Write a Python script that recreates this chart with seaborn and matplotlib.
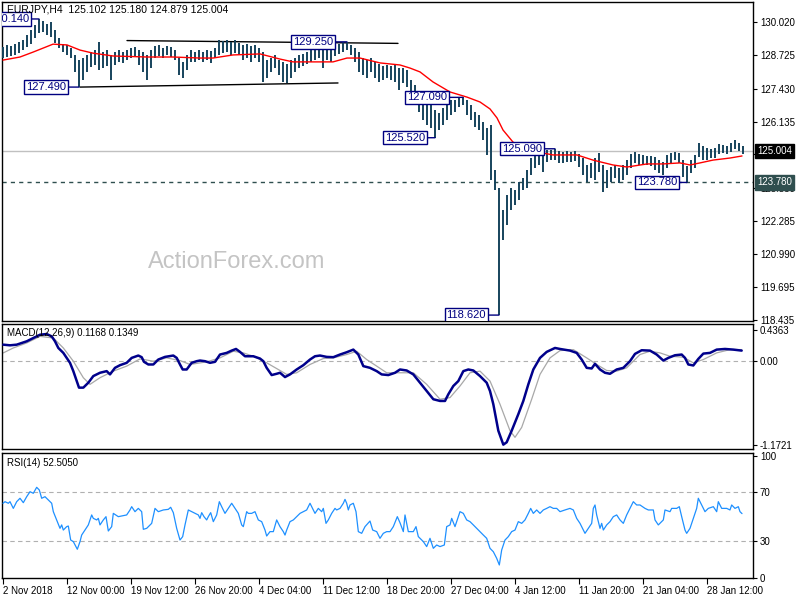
import matplotlib
matplotlib.use("Agg")
import matplotlib.pyplot as plt
import seaborn as sns

sns.set_theme(style="white")
plt.rcParams['font.family'] = ['Liberation Sans', 'DejaVu Sans']

# ---------------- data ----------------
highs = [129.05, 129.13, 129.09, 129.16, 129.24, 129.32, 129.51, 129.71, 129.90, 130.14,
         130.06, 129.94, 130.02, 129.71, 129.40, 129.16, 129.13, 129.01, 128.74, 128.54,
         128.62, 128.74, 128.85, 128.93, 129.24, 128.85, 128.93, 128.74, 128.85, 128.93,
         128.85, 128.93, 129.01, 129.05, 128.93, 128.85, 128.74, 128.93, 129.09, 129.13,
         129.01, 129.09, 129.05, 128.93, 128.62, 128.46, 128.74, 128.93, 128.85, 128.93,
         128.85, 128.93, 128.89, 129.01, 129.32, 129.28, 129.32, 129.24, 129.32, 129.20,
         129.13, 129.16, 129.09, 129.13, 129.01, 128.85, 128.54, 128.62, 128.74, 128.54,
         128.46, 128.39, 128.54, 128.62, 128.74, 128.78, 128.85, 128.93, 129.01, 129.05,
         128.93, 129.09, 129.01, 129.13, 129.16, 129.24, 129.25, 129.13, 129.01, 128.85,
         128.62, 128.54, 128.62, 128.46, 128.39, 128.31, 128.35, 128.31, 128.39, 128.23,
         128.23, 128.15, 127.77, 127.57, 127.18, 126.99, 126.79, 126.87, 126.60, 126.48,
         126.68, 126.83, 126.99, 126.99, 127.06, 127.09, 126.99, 126.79, 126.52, 126.40,
         126.13, 125.90, 126.02, 124.27, 123.57, 122.71, 123.29, 123.57, 123.49, 123.80,
         123.95, 124.27, 124.73, 124.97, 125.04, 124.85, 125.04, 125.04, 125.09, 125.00,
         124.97, 125.00, 124.97, 125.00, 124.89, 124.73, 124.46, 124.54, 124.73, 124.93,
         124.46, 124.27, 124.38, 124.46, 124.34, 124.46, 124.65, 124.89, 124.97, 124.89,
         124.85, 124.81, 124.81, 124.77, 124.65, 124.58, 124.85, 124.93, 124.97, 124.93,
         124.65, 124.42, 124.65, 124.85, 125.32, 125.20, 125.12, 125.08, 125.12, 125.28,
         125.24, 125.20, 125.32, 125.43, 125.32, 125.18]
lows = [128.62, 128.66, 128.70, 128.74, 128.81, 128.93, 129.05, 129.16, 129.40, 129.59,
        129.63, 129.51, 129.44, 129.20, 129.01, 128.85, 128.74, 128.62, 128.08, 127.49,
        127.77, 128.08, 128.27, 128.35, 128.15, 128.23, 128.31, 127.77, 128.35, 128.46,
        128.43, 128.54, 128.62, 128.66, 128.35, 128.08, 127.77, 128.23, 128.62, 128.70,
        128.62, 128.74, 128.66, 128.54, 127.96, 127.84, 128.15, 128.46, 128.46, 128.54,
        128.46, 128.54, 128.43, 128.62, 128.74, 128.81, 128.85, 128.74, 128.81, 128.74,
        128.54, 128.62, 128.46, 128.62, 128.46, 127.69, 127.84, 128.08, 128.23, 127.96,
        127.69, 127.65, 127.84, 128.08, 128.23, 128.31, 128.39, 128.46, 128.54, 128.62,
        128.23, 128.54, 128.46, 128.70, 128.78, 128.85, 128.93, 128.74, 128.46, 128.08,
        127.96, 127.84, 128.08, 127.84, 127.69, 127.77, 127.84, 127.77, 127.69, 127.38,
        127.65, 127.49, 127.10, 126.79, 126.52, 126.21, 126.02, 125.90, 125.52, 125.82,
        126.02, 126.21, 126.40, 126.52, 126.72, 126.79, 126.40, 126.21, 125.94, 125.82,
        125.43, 124.85, 123.88, 123.49, 118.62, 121.54, 122.13, 122.71, 122.90, 123.10,
        123.49, 123.57, 124.07, 124.34, 124.46, 124.19, 124.58, 124.65, 124.65, 124.54,
        124.54, 124.58, 124.58, 124.62, 124.38, 124.07, 123.80, 123.95, 123.88, 124.19,
        123.41, 123.57, 123.80, 123.95, 123.76, 123.88, 124.07, 124.34, 124.54, 124.46,
        124.50, 124.46, 124.42, 124.27, 124.15, 124.07, 124.34, 124.54, 124.65, 124.54,
        123.99, 123.78, 124.15, 124.34, 124.77, 124.65, 124.65, 124.73, 124.73, 124.89,
        124.93, 124.89, 124.97, 125.08, 125.00, 124.879]
bar_index = list(range(len(highs)))

ma_x = [0, 4.25, 7.5, 12.5, 16, 19.25, 22.5, 27.5, 36, 42.5, 49.25, 52.5, 57.5, 64.25,
        69.25, 72.5, 79.25, 82.5, 86, 89.25, 94.25, 99.25, 101.75, 104.25, 107.5, 111.75,
        116, 119.25, 121.75, 123.5, 125, 127.5, 130, 133.5, 137.5, 143.5, 147.5, 152.5,
        156, 161, 165, 169.25, 171.75, 174.25, 177.5, 181.75, 184.75]
ma_val = [128.54, 128.66, 128.85, 129.16, 129.13, 128.93, 128.81, 128.70, 128.66, 128.66,
          128.62, 128.62, 128.74, 128.78, 128.58, 128.47, 128.47, 128.47, 128.62, 128.62,
          128.43, 128.35, 128.23, 128.08, 127.69, 127.30, 127.10, 126.91, 126.64, 126.29,
          125.82, 125.35, 125.12, 124.97, 124.85, 124.85, 124.65, 124.46, 124.38, 124.50,
          124.50, 124.54, 124.46, 124.54, 124.65, 124.73, 124.81]

macd_x = [0.08, 1.75, 3.42, 5.92, 7.58, 9.25, 10.92, 12.17, 13.0, 13.83, 15.08, 15.92,
          16.75, 17.58, 18.42, 19.0, 20.08, 21.33, 22.58, 24.25, 25.92, 26.75, 28.0, 29.25,
          30.92, 32.17, 33.83, 34.67, 35.25, 36.33, 37.58, 38.83, 40.5, 42.58, 43.42, 44.25,
          44.92, 45.92, 47.17, 48.42, 49.25, 50.5, 51.75, 53.0, 54.25, 55.92, 57.17, 58.25,
          59.25, 60.5, 62.58, 64.25, 65.08, 65.92, 67.17, 68.42, 69.25, 70.5, 71.75, 73.42,
          75.08, 76.75, 78.0, 79.25, 80.92, 82.58, 84.25, 85.92, 87.58, 88.83, 90.08, 91.75,
          93.42, 94.67, 96.33, 98.0, 99.25, 100.92, 102.58, 104.25, 105.92, 107.58, 109.25,
          110.5, 111.33, 112.58, 113.83, 115.08, 116.33, 117.58, 119.25, 120.92, 121.75,
          122.58, 123.83, 125.08, 125.92, 127.17, 128.83, 130.08, 131.33, 132.58, 134.25,
          135.92, 138.0, 139.25, 141.75, 143.42, 144.67, 145.92, 147.17, 148.0, 149.25,
          150.5, 151.75, 153.42, 155.08, 156.75, 158.0, 159.67, 161.75, 163.42, 165.08,
          166.33, 168.0, 169.67, 170.5, 171.33, 172.58, 173.83, 175.08, 176.75, 178.42,
          180.5, 182.58, 184.67]
macd_val = [0.231, 0.222, 0.231, 0.278, 0.324, 0.370, 0.380, 0.347, 0.278, 0.185, 0.116,
            0.046, -0.023, -0.139, -0.278, -0.370, -0.370, -0.301, -0.208, -0.162, -0.139,
            -0.185, -0.093, -0.056, -0.023, 0.046, 0.079, 0.056, -0.009, -0.046, -0.046,
            0.023, 0.060, 0.079, 0.046, -0.046, -0.116, -0.116, -0.023, 0.000, 0.009, 0.000,
            -0.023, -0.009, 0.093, 0.116, 0.148, 0.171, 0.130, 0.069, 0.069, 0.037, 0.000,
            -0.093, -0.194, -0.176, -0.162, -0.222, -0.185, -0.116, -0.056, 0.023, 0.069,
            0.079, 0.060, 0.056, 0.093, 0.125, 0.162, 0.093, -0.069, -0.093, -0.139, -0.185,
            -0.194, -0.162, -0.116, -0.130, -0.185, -0.301, -0.417, -0.532, -0.556, -0.556,
            -0.463, -0.347, -0.278, -0.139, -0.116, -0.130, -0.208, -0.301, -0.417, -0.602,
            -0.972, -1.167, -1.134, -0.972, -0.741, -0.556, -0.324, -0.116, 0.046, 0.130,
            0.185, 0.171, 0.148, 0.116, 0.023, -0.093, -0.102, -0.037, -0.116, -0.162,
            -0.176, -0.116, -0.093, 0.000, 0.102, 0.153, 0.148, 0.093, 0.009, 0.046, 0.083,
            0.093, 0.046, -0.046, -0.060, 0.032, 0.106, 0.116, 0.162, 0.171, 0.162, 0.148]

signal_x = [0.08, 2.58, 5.92, 9.25, 12.58, 15.08, 17.58, 20.08, 21.75, 24.25, 27.58, 30.92,
            34.25, 37.58, 40.92, 44.25, 46.75, 50.92, 54.25, 57.58, 60.08, 62.58, 65.92,
            69.25, 70.92, 73.42, 76.75, 80.08, 82.58, 85.92, 88.42, 90.92, 93.42, 95.92,
            99.25, 102.58, 105.92, 109.25, 111.75, 114.25, 116.75, 119.25, 121.75, 124.25,
            126.75, 128.0, 129.67, 132.17, 134.25, 136.75, 139.25, 142.58, 145.92, 148.42,
            150.92, 153.42, 155.92, 159.25, 161.75, 164.25, 166.75, 170.08, 172.58, 175.08,
            178.42, 181.75, 184.67]
signal_val = [0.116, 0.185, 0.255, 0.347, 0.324, 0.185, 0.000, -0.231, -0.324, -0.231,
              -0.139, -0.069, 0.032, 0.000, 0.046, 0.009, -0.046, -0.009, 0.046, 0.139,
              0.116, 0.069, -0.023, -0.130, -0.185, -0.162, -0.046, 0.037, 0.046, 0.093,
              0.139, 0.023, -0.069, -0.162, -0.162, -0.162, -0.324, -0.532, -0.509, -0.347,
              -0.162, -0.139, -0.278, -0.602, -0.972, -1.065, -0.926, -0.532, -0.185, 0.046,
              0.148, 0.162, 0.046, -0.046, -0.130, -0.139, -0.093, 0.093, 0.139, 0.116,
              0.069, 0.056, -0.023, 0.023, 0.116, 0.162, 0.162]

rsi_x = [0, 0.5, 1.33, 1.75, 2.58, 3.42, 4.25, 5.08, 5.92, 6.75, 7.58, 8.42, 9.08, 9.67,
         10.5, 11.33, 12.17, 12.58, 13.42, 14.25, 14.67, 15.08, 15.92, 16.33, 16.92, 17.58,
         18.58, 19.25, 19.67, 20.5, 21.33, 22.17, 22.58, 23.42, 23.83, 24.25, 25.08, 25.75,
         26.33, 27.17, 27.58, 28.83, 30.92, 31.75, 32.17, 33.0, 33.83, 34.67, 35.08, 35.92,
         37.17, 38.0, 38.83, 40.08, 41.33, 41.92, 42.58, 43.42, 44.25, 44.92, 45.5, 46.33,
         47.17, 48.0, 48.83, 49.25, 49.67, 50.25, 50.92, 51.33, 51.92, 52.58, 53.42, 54.08,
         54.67, 55.5, 56.33, 57.17, 58.0, 58.83, 59.67, 60.08, 60.92, 61.33, 62.17, 63.0,
         63.83, 64.67, 65.5, 65.92, 66.75, 67.58, 68.42, 69.25, 70.08, 70.5, 70.92, 71.75,
         72.58, 73.42, 74.25, 75.08, 75.92, 76.75, 77.58, 78.0, 78.83, 79.67, 80.08, 80.75,
         81.33, 82.17, 83.0, 83.42, 84.25, 85.08, 85.5, 85.92, 86.33, 86.75, 87.58, 88.25,
         88.83, 89.67, 90.5, 91.75, 92.42, 93.42, 94.25, 95.08, 95.92, 96.75, 97.58, 98.58,
         99.25, 100.08, 100.5, 101.33, 102.58, 103.25, 103.83, 105.08, 105.92, 106.75,
         107.58, 108.42, 109.25, 110.33, 110.92, 111.75, 112.17, 113.0, 113.83, 114.25,
         115.08, 115.92, 116.75, 117.58, 118.83, 120.08, 120.92, 121.75, 122.58, 123.42,
         124.08, 124.67, 125.5, 126.33, 127.17, 128.0, 128.83, 129.67, 130.5, 131.33,
         131.92, 132.58, 133.42, 134.25, 135.08, 135.92, 136.75, 137.58, 138.42, 139.25,
         140.5, 141.75, 142.58, 143.42, 144.25, 145.08, 145.5, 146.33, 147.17, 147.58,
         148.0, 148.42, 149.25, 149.67, 150.08, 150.92, 151.75, 152.58, 153.42, 154.25,
         155.08, 155.92, 156.75, 157.58, 158.42, 159.25, 160.5, 161.33, 162.58, 163.0,
         163.83, 165.08, 165.5, 166.75, 167.17, 168.42, 169.08, 169.67, 170.5, 170.92,
         171.75, 172.58, 173.42, 173.83, 174.67, 175.5, 176.33, 177.58, 178.42, 178.83,
         179.67, 180.92, 181.75, 182.17, 183.0, 183.83, 184.25, 184.75]
rsi_val = [61.0, 62.3, 61.0, 62.3, 56.8, 62.3, 65.1, 61.5, 66.4, 70.5, 69.2, 74.1, 71.9, 65.1,
           66.4, 63.7, 61.0, 54.1, 47.3, 40.4, 43.2, 39.0, 41.8, 42.3, 30.8, 29.5, 23.2, 29.5,
           34.9, 39.0, 43.2, 51.4, 48.6, 47.3, 48.6, 43.2, 47.3, 50.0, 38.2, 41.8, 52.7, 50.0,
           51.4, 55.5, 58.2, 54.1, 56.8, 54.1, 39.6, 40.4, 44.5, 56.8, 54.1, 55.5, 56.0, 57.7,
           53.3, 40.4, 30.8, 33.6, 43.2, 55.5, 54.1, 52.7, 51.4, 48.6, 53.3, 50.0, 47.3, 50.0,
           53.3, 45.9, 51.4, 62.3, 58.2, 52.7, 56.8, 61.0, 56.8, 52.7, 43.2, 41.8, 54.1, 52.7,
           52.7, 54.1, 47.3, 45.9, 39.0, 34.1, 37.7, 37.7, 47.3, 41.8, 37.7, 34.9, 39.0, 45.9,
           47.3, 50.0, 52.7, 54.1, 55.5, 61.0, 55.5, 52.7, 56.8, 54.1, 56.8, 44.5, 47.3, 52.7,
           56.8, 55.5, 56.8, 61.0, 64.2, 61.0, 55.5, 59.6, 61.0, 54.1, 37.7, 36.3, 41.8, 46.4,
           39.0, 37.7, 32.2, 36.3, 37.7, 37.7, 41.8, 50.0, 45.0, 37.7, 51.4, 37.7, 37.7, 41.8,
           33.6, 29.5, 25.4, 32.2, 24.0, 26.7, 25.4, 26.7, 41.8, 43.2, 48.6, 41.8, 50.0, 54.1,
           52.7, 47.3, 45.9, 43.2, 39.0, 34.9, 32.2, 24.0, 21.2, 15.8, 10.3, 22.6, 30.8, 33.6,
           37.7, 39.0, 45.9, 44.5, 47.3, 52.7, 56.8, 52.7, 55.5, 52.7, 55.5, 56.8, 58.2, 56.8,
           56.8, 54.1, 55.5, 56.8, 55.5, 48.6, 44.5, 39.0, 36.3, 40.4, 44.5, 56.8, 59.6, 51.4,
           40.4, 44.5, 39.0, 43.2, 45.9, 50.0, 51.4, 47.3, 44.5, 51.4, 56.8, 62.3, 59.6, 59.6,
           56.8, 55.5, 55.5, 47.3, 43.2, 47.3, 55.5, 54.1, 56.8, 56.8, 58.2, 50.0, 39.0, 36.3,
           40.4, 48.6, 56.8, 65.1, 59.6, 54.1, 56.8, 58.2, 54.1, 62.3, 56.8, 56.8, 55.5, 59.6,
           56.8, 58.2, 54.1, 52.5]

label_text = ["130.140", "127.490", "129.250", "127.090", "125.520", "125.090", "118.620", "123.780"]
label_bar = [9, 19, 86, 115, 108, 138, 124, 171]
label_price = [130.14, 127.49, 129.25, 127.09, 125.52, 125.09, 118.62, 123.78]

top_line_bar = [31, 98.75]
top_line_price = [129.30, 129.19]
bot_line_bar = [19.25, 83.75]
bot_line_price = [127.49, 127.65]

last_price = 125.004
support_level = 123.78

price_ticks = [130.020, 128.725, 127.430, 126.135, 124.875, 123.580, 122.285, 120.990, 119.695, 118.435]
macd_ticks = [0.4363, 0.0, -1.1721]
macd_tick_labels = ["0.4363", "0.00", "-1.1721"]
rsi_ticks = [100, 70, 30, 0]
time_tick_bars = [0, 16, 32, 48, 64, 80, 96, 112, 128, 144, 160, 176]
time_tick_labels = ["2 Nov 2018", "12 Nov 00:00", "19 Nov 12:00", "26 Nov 20:00", "4 Dec 04:00",
                    "11 Dec 12:00", "18 Dec 20:00", "27 Dec 04:00", "4 Jan 12:00", "11 Jan 20:00",
                    "21 Jan 04:00", "28 Jan 12:00"]

# ---------------- layout ----------------
W, H = 800, 600
fig = plt.figure(figsize=(8, 6), dpi=100)
fig.patch.set_facecolor("white")


def rect(l, t, r, b):
    return [l / W, (H - b) / H, (r - l) / W, (b - t) / H]


ax = fig.add_axes(rect(2, 2, 753, 321))
axm = fig.add_axes(rect(2, 324, 753, 449))
axr = fig.add_axes(rect(2, 453, 753, 578))

XL = (-0.25, 187.5)
PX = 0.72  # points per pixel
BAR_C = "#16435C"
NAVY = "#000080"

for a in (ax, axm, axr):
    a.set_facecolor("white")
    a.set_xlim(*XL)
    for s in a.spines.values():
        s.set_color("black")
        s.set_linewidth(1.0)
        s.set_visible(True)
    a.yaxis.tick_right()
    a.tick_params(axis="y", which="both", left=False, right=True, labelleft=False,
                  labelright=True, direction="out", length=3, width=0.8, pad=2,
                  labelsize=7, colors="black")
    a.tick_params(axis="x", which="both", bottom=False, top=False, labelbottom=False)
    a.grid(False)

# ---------------- main price panel ----------------
ax.set_ylim(118.39, 130.80)
ax.axhline(last_price, color="#C0C0C0", lw=1.0, zorder=1)
ax.axhline(support_level, color="#2F4F4F", lw=1.0, ls=(0, (3, 3)), zorder=1)
ax.vlines(bar_index, lows, highs, color=BAR_C, lw=1.4, zorder=3)
sns.lineplot(x=ma_x, y=ma_val, ax=ax, color="#FF0000", lw=1.0, sort=False,
             estimator=None, zorder=4)
ax.plot(top_line_bar, top_line_price, color="black", lw=1.0, zorder=2)
ax.plot(bot_line_bar, bot_line_price, color="black", lw=1.0, zorder=2)

gap_px = [8, 11, 12, 14, 8, 11, 11, 8]
for txt, b, p, g in zip(label_text, label_bar, label_price, gap_px):
    ax.annotate(txt, xy=(b, p), xytext=(-(g + 2) * PX, 0), textcoords="offset points",
                ha="right", va="center", fontsize=8, color=NAVY, clip_on=True,
                bbox=dict(boxstyle="square,pad=0.15", fc="white", ec=NAVY, lw=1.0),
                arrowprops=dict(arrowstyle="-", color=NAVY, lw=1.0, shrinkA=0, shrinkB=0),
                zorder=6)

ax.set_yticks(price_ticks)
ax.set_yticklabels([f"{v:.3f}" for v in price_ticks])
ax.annotate(f"{last_price:.3f}", xy=(1, last_price), xycoords=ax.get_yaxis_transform(),
            xytext=(3, 0), textcoords="offset points", ha="left", va="center",
            fontsize=7, color="white", annotation_clip=False, zorder=10,
            bbox=dict(boxstyle="square,pad=0.25", fc="black", ec="black"))
ax.annotate(f"{support_level:.3f}", xy=(1, support_level), xycoords=ax.get_yaxis_transform(),
            xytext=(3, 0), textcoords="offset points", ha="left", va="center",
            fontsize=7, color="white", annotation_clip=False, zorder=10,
            bbox=dict(boxstyle="square,pad=0.25", fc="#2F4F4F", ec="#2F4F4F"))

ax.text(0.007, 0.976, "EURJPY,H4  125.102 125.180 124.879 125.004", transform=ax.transAxes,
        ha="left", va="center", fontsize=7.5, color="black", zorder=7)
ax.text(0.313, 0.185, "ActionForex.com", transform=ax.transAxes, ha="center", va="center",
        fontsize=17, color="#C4C4C4", zorder=0)

# ---------------- MACD panel ----------------
axm.set_ylim(-1.228, 0.520)
axm.axhline(0.0, color="#B0B0B0", lw=0.8, ls=(0, (4, 3)), zorder=1)
sns.lineplot(x=signal_x, y=signal_val, ax=axm, color="#A8A8A8", lw=0.9, sort=False,
             estimator=None, zorder=2)
sns.lineplot(x=macd_x, y=macd_val, ax=axm, color="#00008B", lw=1.8, sort=False,
             estimator=None, zorder=3)
axm.set_yticks(macd_ticks)
axm.set_yticklabels(macd_tick_labels)
axm.text(0.007, 0.928, "MACD(12,26,9) 0.1168 0.1349", transform=axm.transAxes, ha="left",
         va="center", fontsize=7, color="black", zorder=5)

# ---------------- RSI panel ----------------
axr.set_ylim(-0.4, 102.3)
for lvl in (70, 30):
    axr.axhline(lvl, color="#B0B0B0", lw=0.8, ls=(0, (4, 3)), zorder=1)
sns.lineplot(x=rsi_x, y=rsi_val, ax=axr, color="#1E90FF", lw=0.9, sort=False,
             estimator=None, zorder=3)
axr.set_yticks(rsi_ticks)
axr.set_yticklabels([str(v) for v in rsi_ticks])
axr.text(0.007, 0.92, "RSI(14) 52.5050", transform=axr.transAxes, ha="left", va="center",
         fontsize=7, color="black", zorder=5)

axr.set_xticks(time_tick_bars)
axr.set_xticklabels(time_tick_labels)
axr.tick_params(axis="x", bottom=True, labelbottom=True, direction="out", length=4,
                width=0.8, pad=2, labelsize=7, colors="black")
for lbl in axr.get_xticklabels():
    lbl.set_horizontalalignment("left")

for a in (ax, axm, axr):
    a.set_xlabel("")
    a.set_ylabel("")
    if a.get_legend() is not None:
        a.get_legend().remove()

fig.savefig("out.png", dpi=100, facecolor="white")
